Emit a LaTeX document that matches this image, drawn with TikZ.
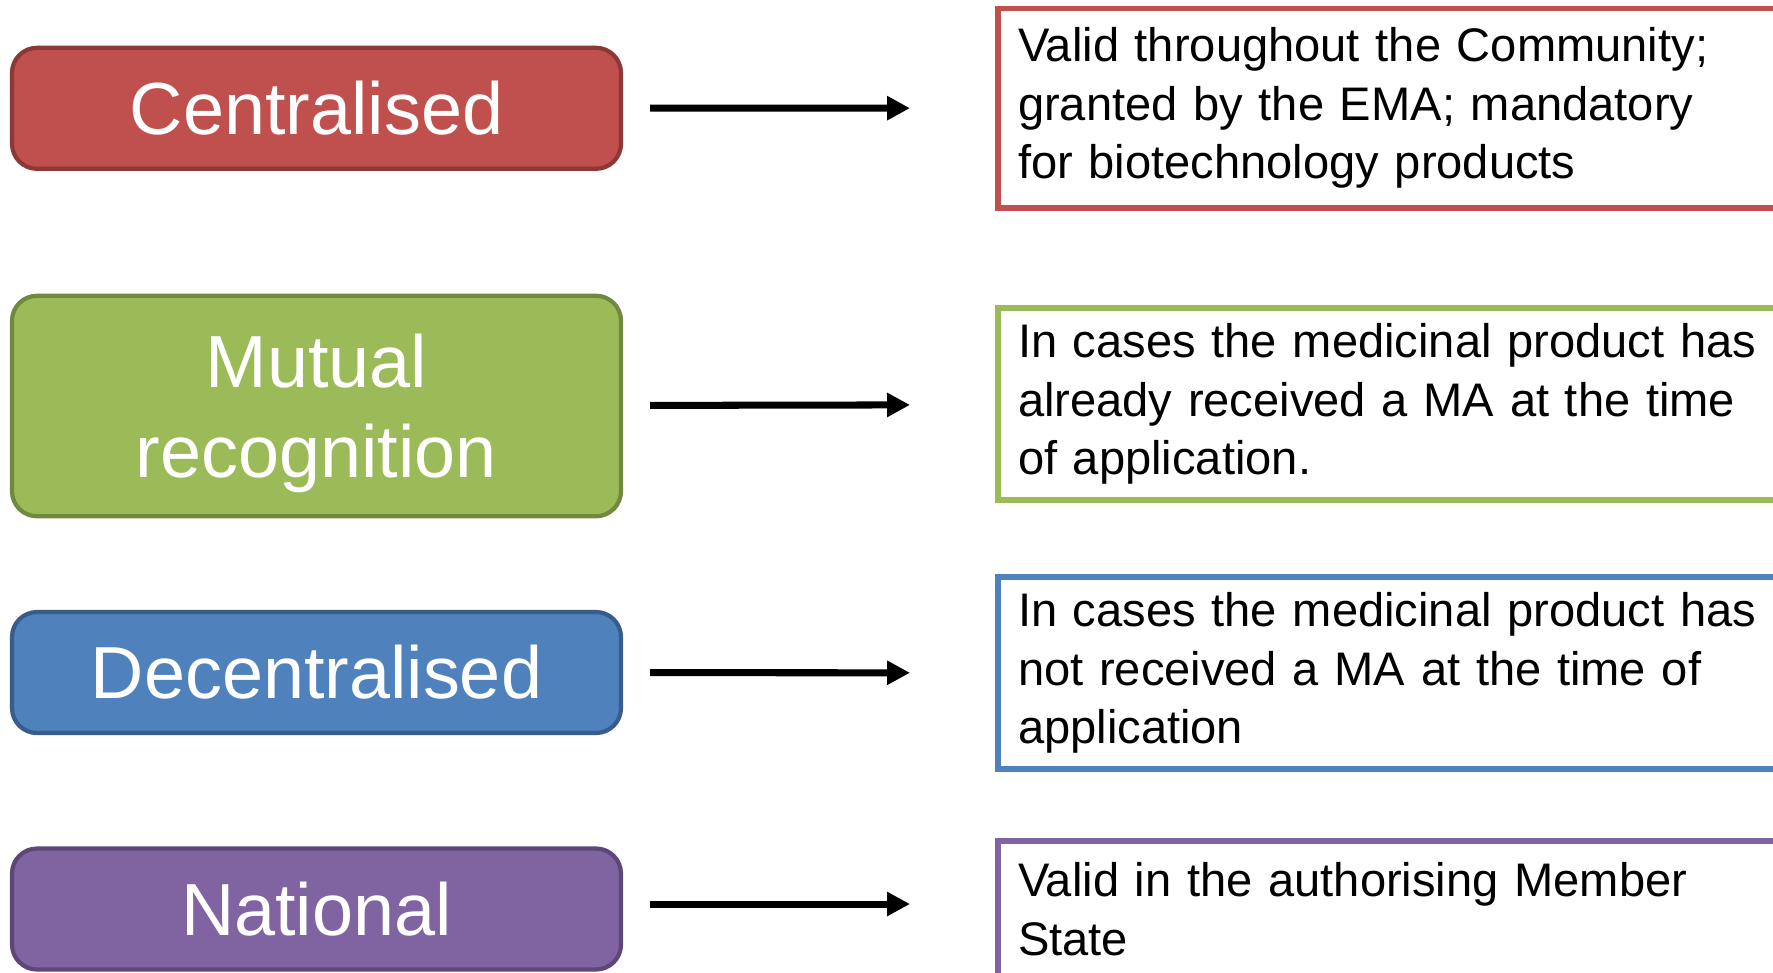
\documentclass[tikz,border=0pt]{standalone}
\usepackage{fontspec}
\setmainfont{Liberation Sans}
\usetikzlibrary{arrows.meta}
\definecolor{centfill}{HTML}{C0504D}
\definecolor{centline}{HTML}{8C3836}
\definecolor{mutfill}{HTML}{9BBB59}
\definecolor{mutline}{HTML}{71893F}
\definecolor{decfill}{HTML}{4F81BD}
\definecolor{decline}{HTML}{385D8A}
\definecolor{natfill}{HTML}{8064A2}
\definecolor{natline}{HTML}{5C4776}
\begin{document}
\begin{tikzpicture}[
    method/.style={rectangle, rounded corners=0.25cm, draw, line width=1.2pt, minimum width=6.09cm, minimum height=1.21cm, text=white, align=center, font=\fontsize{21}{25.5}\selectfont},
    info/.style={rectangle, draw, line width=1.7pt, anchor=west, inner xsep=0.2cm, text width=7.6cm, align=left, font=\fontsize{13.4}{16.7}\selectfont},
    arrow/.style={-{Triangle[length=0.23cm, width=0.23cm]}, line width=2pt, shorten <=0.27cm, shorten >=0.85cm}
]
    \useasboundingbox (0,0) rectangle (17.73,-9.72);
    \clip (0,0) rectangle (17.73,-9.72);

    \node[method, fill=centfill, draw=centline] (centralised) at (3.165,-1.083) {Centralised};
    \node[method, fill=mutfill, draw=mutline, minimum height=2.205cm, text depth=0pt] (mutual) at (3.165,-4.06) {Mutual\\recognition};
    \node[method, fill=decfill, draw=decline] (decentralised) at (3.165,-6.725) {Decentralised};
    \node[method, fill=natfill, draw=natline] (national) at (3.165,-9.09) {National};

    \node[info, draw=centfill, minimum height=1.99cm] (centralisedinfo) at (9.95,-1.08) {Valid throughout the Community;\\granted by the EMA; mandatory\\for biotechnology products};
    \node[info, draw=mutfill, minimum height=1.92cm] (mutualinfo) at (9.95,-4.04) {In cases the medicinal product has\\already received a MA at the time\\of application.};
    \node[info, draw=decfill, minimum height=1.925cm] (decentralisedinfo) at (9.95,-6.73) {In cases the medicinal product has\\not received a MA at the time of\\application};
    \node[info, draw=natfill, minimum height=1.37cm] (nationalinfo) at (9.95,-9.09) {Valid in the authorising Member\\State};

    \draw[arrow] (centralised) -- (centralisedinfo);
    \draw[arrow] (mutual) -- (mutualinfo);
    \draw[arrow] (decentralised) -- (decentralisedinfo);
    \draw[arrow] ([yshift=0.05cm]national.east) -- ([yshift=0.05cm]nationalinfo.west);
\end{tikzpicture}
\end{document}
